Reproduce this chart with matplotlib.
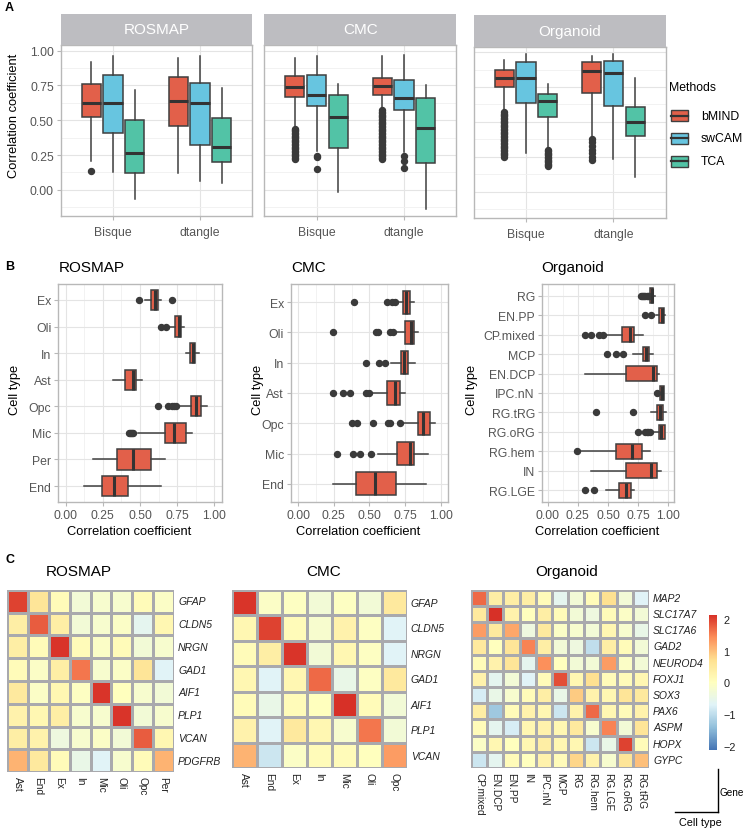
"""Deconvolution benchmark figure: method comparison, per-cell-type correlation, marker heatmaps."""

import matplotlib
matplotlib.use("Agg")
import matplotlib.pyplot as plt
import numpy as np
from matplotlib.colors import LinearSegmentedColormap, Normalize
from matplotlib.cm import ScalarMappable
from matplotlib.lines import Line2D
from matplotlib.patches import Rectangle
from matplotlib.ticker import MultipleLocator

plt.rcParams["font.family"] = ["Liberation Sans", "DejaVu Sans"]

# ---------------------------------------------------------------- data: panel A
A_datasets = ["ROSMAP", "CMC", "Organoid"]
A_groups = ["Bisque", "dtangle"]
A_methods = ["bMIND", "swCAM", "TCA"]
A_colors = ["#E2604A", "#67C5E0", "#52C3A6"]

# [dataset][group][method]
A_lo = [[[0.21, 0.127, -0.067], [0.12, 0.06, 0.048]],
        [[0.46, 0.28, -0.012], [0.58, 0.27, -0.136]],
        [[0.595, 0.274, 0.31], [0.40, 0.231, 0.104]]]
A_q1 = [[[0.524, 0.407, 0.12], [0.457, 0.323, 0.199]],
        [[0.668, 0.603, 0.304], [0.68, 0.574, 0.194]],
        [[0.75, 0.638, 0.536], [0.704, 0.614, 0.402]]]
A_med = [[[0.622, 0.625, 0.263], [0.639, 0.62, 0.306]],
         [[0.742, 0.684, 0.522], [0.749, 0.66, 0.445]],
         [[0.816, 0.816, 0.65], [0.864, 0.852, 0.50]]]
A_q3 = [[[0.761, 0.823, 0.498], [0.809, 0.77, 0.517]],
        [[0.818, 0.826, 0.684], [0.80, 0.792, 0.66]],
        [[0.871, 0.929, 0.70], [0.933, 0.94, 0.604]]]
A_hi = [[[0.917, 0.96, 0.718], [0.945, 0.96, 0.734]],
        [[0.945, 0.96, 0.759], [0.96, 0.965, 0.754]],
        [[0.947, 0.988, 0.769], [0.976, 0.988, 0.816]]]
A_fliers = [
    [[[0.134], [], []], [[], [], []]],
    [[[0.44, 0.43, 0.42, 0.41, 0.40, 0.39, 0.38, 0.37, 0.36, 0.35, 0.34, 0.33,
       0.32, 0.31, 0.30, 0.29, 0.28, 0.27, 0.26, 0.25, 0.24, 0.23, 0.22],
      [0.245, 0.235, 0.148], []],
     [[0.57, 0.56, 0.55, 0.54, 0.53, 0.52, 0.51, 0.50, 0.49, 0.48, 0.47, 0.46,
       0.45, 0.44, 0.43, 0.42, 0.41, 0.40, 0.39, 0.38, 0.37, 0.36, 0.35, 0.34,
       0.33, 0.32, 0.31, 0.30, 0.29, 0.28, 0.27, 0.26, 0.25, 0.24, 0.23, 0.22],
      [0.246, 0.206, 0.156], []]],
    [[[0.57, 0.56, 0.55, 0.54, 0.53, 0.52, 0.51, 0.50, 0.49, 0.48, 0.47, 0.46,
       0.45, 0.44, 0.43, 0.42, 0.41, 0.40, 0.39, 0.38, 0.37, 0.36, 0.35, 0.34,
       0.33, 0.32, 0.31, 0.30, 0.29, 0.28, 0.27, 0.26, 0.25],
      [],
      [0.30, 0.29, 0.28, 0.27, 0.26, 0.25, 0.24, 0.23, 0.22, 0.21, 0.20, 0.19, 0.18]],
     [[0.375, 0.355, 0.33, 0.30, 0.275, 0.25, 0.23], [], []]],
]

# ---------------------------------------------------------------- data: panel B
B_ros_types = ["Ex", "Oli", "In", "Ast", "Opc", "Mic", "Per", "End"]
B_ros_lo = [0.531, 0.70, 0.81, 0.318, 0.76, 0.485, 0.183, 0.123]
B_ros_q1 = [0.577, 0.738, 0.837, 0.40, 0.843, 0.667, 0.347, 0.244]
B_ros_med = [0.60, 0.763, 0.855, 0.452, 0.877, 0.731, 0.452, 0.322]
B_ros_q3 = [0.624, 0.778, 0.872, 0.472, 0.908, 0.808, 0.575, 0.418]
B_ros_hi = [0.644, 0.794, 0.90, 0.515, 0.951, 0.85, 0.669, 0.644]
B_ros_fliers = [[0.49, 0.716], [0.64, 0.678], [], [],
                [0.624, 0.687, 0.716, 0.728, 0.74],
                [0.425, 0.433, 0.44, 0.447, 0.452], [], []]

B_cmc_types = ["Ex", "Oli", "In", "Ast", "Opc", "Mic", "End"]
B_cmc_lo = [0.694, 0.694, 0.652, 0.504, 0.73, 0.56, 0.243]
B_cmc_q1 = [0.735, 0.749, 0.719, 0.624, 0.841, 0.696, 0.403]
B_cmc_med = [0.758, 0.788, 0.744, 0.682, 0.878, 0.781, 0.536]
B_cmc_q3 = [0.781, 0.809, 0.772, 0.717, 0.924, 0.814, 0.687]
B_cmc_hi = [0.811, 0.839, 0.816, 0.751, 0.959, 0.908, 0.897]
B_cmc_fliers = [[0.391, 0.62, 0.661, 0.677],
                [0.246, 0.543, 0.562, 0.643, 0.666],
                [0.476, 0.569, 0.608],
                [0.243, 0.312, 0.366, 0.476, 0.493],
                [0.38, 0.412, 0.527, 0.631, 0.643, 0.712],
                [0.271, 0.384, 0.435, 0.513],
                []]

B_org_types = ["RG", "EN.PP", "CP.mixed", "MCP", "EN.DCP", "IPC.nN",
               "RG.tRG", "RG.oRG", "RG.hem", "IN", "RG.LGE"]
B_org_lo = [0.845, 0.897, 0.476, 0.707, 0.307, 0.93, 0.856, 0.87, 0.266, 0.361, 0.484]
B_org_q1 = [0.848, 0.924, 0.62, 0.788, 0.652, 0.935, 0.905, 0.924, 0.563, 0.652, 0.592]
B_org_med = [0.862, 0.946, 0.68, 0.815, 0.87, 0.946, 0.932, 0.943, 0.70, 0.856, 0.652]
B_org_q3 = [0.875, 0.965, 0.715, 0.842, 0.905, 0.965, 0.96, 0.973, 0.78, 0.905, 0.693]
B_org_hi = [0.89, 0.97, 0.793, 0.875, 0.924, 0.968, 0.978, 0.975, 0.85, 0.9375, 0.712]
B_org_fliers = [[0.77, 0.78, 0.79, 0.80, 0.81, 0.82, 0.83, 0.84],
                [0.81, 0.86],
                [0.31, 0.36, 0.427, 0.462],
                [0.489, 0.565, 0.625],
                [],
                [0.91],
                [0.40, 0.707],
                [0.753, 0.807, 0.82, 0.835, 0.85],
                [0.245],
                [],
                [0.313, 0.38]]

# ---------------------------------------------------------------- data: panel C
C_ros_cols = ["Ast", "End", "Ex", "In", "Mic", "Oli", "Opc", "Per"]
C_ros_rows = ["GFAP", "CLDN5", "NRGN", "GAD1", "AIF1", "PLP1", "VCAN", "PDGFRB"]
C_ros_vals = [
    [2.0, 0.6, 0.1, -0.3, -0.2, -0.2, 0.1, -0.1],
    [0.4, 1.8, 0.4, -0.3, -0.2, -0.1, -0.6, 0.2],
    [0.4, 0.1, 2.1, 0.1, -0.1, 0.1, -0.3, -0.2],
    [0.1, -0.1, 0.4, 1.6, -0.2, -0.1, 0.6, -0.7],
    [0.5, -0.1, 0.2, -0.05, 2.1, 0.0, -0.2, -0.3],
    [0.3, 0.2, 0.4, -0.2, -0.2, 2.1, -0.3, -0.2],
    [0.4, 0.3, -0.4, -0.2, -0.1, -0.3, 1.8, 0.2],
    [1.1, 0.5, 0.1, -0.5, -0.7, -0.2, 0.1, 1.1],
]

C_cmc_cols = ["Ast", "End", "Ex", "In", "Mic", "Oli", "Opc"]
C_cmc_rows = ["GFAP", "CLDN5", "NRGN", "GAD1", "AIF1", "PLP1", "VCAN"]
C_cmc_vals = [
    [2.1, -0.1, -0.05, -0.3, -0.05, -0.3, 0.5],
    [0.2, 2.0, 0.1, -0.2, 0.3, -0.05, -0.7],
    [0.1, 0.4, 2.1, -0.3, 0.2, -0.05, -0.7],
    [0.2, -0.7, 0.2, 1.7, -0.5, -0.05, 0.5],
    [0.1, -0.5, 0.1, 0.0, 2.2, 0.1, -0.3],
    [0.3, -0.7, 0.5, 0.2, -0.2, 1.6, -0.3],
    [1.1, -0.9, -0.1, 0.1, 0.1, 0.0, 1.3],
]

C_org_cols = ["CP.mixed", "EN.DCP", "EN.PP", "IN", "IPC.nN", "MCP",
              "RG", "RG.hem", "RG.LGE", "RG.oRG", "RG.tRG"]
C_org_rows = ["MAP2", "SLC17A7", "SLC17A6", "GAD2", "NEUROD4", "FOXJ1",
              "SOX3", "PAX6", "ASPM", "HOPX", "GYPC"]
C_org_vals = [
    [1.7, 0.4, 0.4, 0.4, 0.1, -0.6, -0.3, 0.1, 0.7, -0.3, -0.7],
    [0.5, 2.2, 0.3, 0.0, 0.4, 0.1, -0.3, -0.4, 0.1, -0.1, -0.3],
    [1.3, 0.5, 1.2, -0.4, 0.5, -0.1, -0.2, -0.3, 0.2, -0.2, -0.5],
    [0.5, 0.0, 0.6, 1.5, 0.4, -0.3, -0.4, -1.0, 0.4, 0.1, -0.3],
    [0.1, 0.3, 0.6, -0.6, 1.4, 0.0, -0.3, -0.3, 1.3, -0.1, -0.3],
    [0.3, -0.6, -0.3, -0.7, 0.1, 1.9, 0.2, 0.7, 0.1, 0.1, 0.2],
    [-0.8, -0.5, -0.2, 0.1, 0.4, -0.5, 0.9, 0.3, 0.2, 0.6, 0.5],
    [0.4, -1.3, 0.1, 0.3, 0.2, -0.9, 0.3, 1.7, 0.2, 0.1, 0.3],
    [0.1, -0.6, -0.8, 0.2, 0.3, 0.2, 0.5, -0.2, 1.5, -0.3, 0.6],
    [-0.1, 0.2, 0.0, 0.2, 0.4, 0.2, 0.2, -0.9, -0.5, 2.0, 0.1],
    [-0.9, -0.6, 0.1, 0.0, 0.3, 0.1, 0.8, 0.3, -0.2, 0.6, 1.0],
]
C_cbar_ticks = [-2, -1, 0, 1, 2]

# ---------------------------------------------------------------- styling
W, H = 746, 829
GRID_MAJOR = "#e4e4e4"
GRID_MINOR = "#f0f0f0"
BORDER = "#b8b8b8"
TICK_TXT = "#555555"
EDGE = "#3f3f3f"
BOX_RED = "#E2604A"
TICK_FS = 8.8
TITLE_FS = 9.3

fig = plt.figure(figsize=(W / 100, H / 100), dpi=100)


def px_axes(x0, y0, x1, y1):
    """Axes placed by pixel box (top-left origin)."""
    return fig.add_axes([x0 / W, 1 - y1 / H, (x1 - x0) / W, (y1 - y0) / H])


def px_text(x, y, s, **kw):
    return fig.text(x / W, 1 - y / H, s, **kw)


def light_theme(ax):
    ax.set_axisbelow(True)
    for sp in ax.spines.values():
        sp.set_color(BORDER)
        sp.set_linewidth(1.0)
    ax.tick_params(colors=BORDER, labelcolor=TICK_TXT, labelsize=TICK_FS,
                   length=3, width=0.8, pad=2)
    ax.tick_params(which="minor", length=0)


def box_stats(lo, q1, med, q3, hi, fl):
    return dict(whislo=lo, q1=q1, med=med, q3=q3, whishi=hi, fliers=fl)


def draw_boxes(ax, stats, positions, width, color, orientation):
    ax.bxp(stats, positions=positions, widths=width, patch_artist=True,
           showcaps=False, orientation=orientation,
           boxprops=dict(facecolor=color, edgecolor=EDGE, linewidth=1.1),
           whiskerprops=dict(color=EDGE, linewidth=1.1),
           medianprops=dict(color="#333333", linewidth=2.2),
           flierprops=dict(marker="o", markerfacecolor="#3a3a3a",
                           markeredgecolor="#3a3a3a", markersize=4.3))


# ---------------------------------------------------------------- panel A
px_text(5, 8, "A", fontsize=9, fontweight="bold", va="center")

A_layout = [(60.7, 252.3, 14.7, 46.0, 217.3),
            (264.3, 456.3, 14.7, 46.0, 217.3),
            (473.7, 665.7, 16.0, 47.7, 219.0)]
offsets = [-0.25, 0.0, 0.25]

for d, name in enumerate(A_datasets):
    x0, x1, s0, y0, y1 = A_layout[d]
    ax = px_axes(x0, y0, x1, y1)
    light_theme(ax)
    for g in range(len(A_groups)):
        for m in range(len(A_methods)):
            st = box_stats(A_lo[d][g][m], A_q1[d][g][m], A_med[d][g][m],
                           A_q3[d][g][m], A_hi[d][g][m], A_fliers[d][g][m])
            draw_boxes(ax, [st], [g + offsets[m]], 0.22, A_colors[m], "vertical")
    ax.set_xlim(-0.6, 1.6)
    ax.set_ylim(-0.19, 1.04)
    ax.set_xticks(range(len(A_groups)))
    ax.set_xticklabels(A_groups)
    ax.tick_params(axis="x", pad=4)
    ax.yaxis.set_major_locator(MultipleLocator(0.25))
    ax.yaxis.set_minor_locator(MultipleLocator(0.125))
    ax.grid(which="major", color=GRID_MAJOR, linewidth=0.8)
    ax.grid(which="minor", axis="y", color=GRID_MINOR, linewidth=0.6)
    if d == 0:
        ax.set_yticklabels([f"{v:.2f}" for v in ax.get_yticks()])
    else:
        ax.tick_params(axis="y", left=False, labelleft=False)
    strip = px_axes(x0, s0, x1, y0)
    strip.set_facecolor("#bdbdc1")
    strip.set_xticks([])
    strip.set_yticks([])
    for sp in strip.spines.values():
        sp.set_visible(False)
    strip.text(0.5, 0.5, name, color="white", fontsize=11, ha="center",
               va="center", transform=strip.transAxes)

px_text(14, 116, "Correlation coefficient", fontsize=TITLE_FS, rotation=90,
        ha="center", va="center")

# legend for methods
px_text(669, 88, "Methods", fontsize=TICK_FS, va="center")
for m, meth in enumerate(A_methods):
    yc = 116.7 + m * 22.7
    fig.add_artist(Rectangle((671 / W, 1 - (yc + 5.5) / H), 17 / W, 11 / H,
                             transform=fig.transFigure, facecolor=A_colors[m],
                             edgecolor=EDGE, linewidth=1.0))
    fig.add_artist(Line2D([671 / W, 688 / W], [1 - yc / H, 1 - yc / H],
                          transform=fig.transFigure, color="#333333", linewidth=1.6))
    px_text(701, yc, meth, fontsize=TICK_FS, va="center")

# ---------------------------------------------------------------- panel B
px_text(5, 267, "B", fontsize=9, fontweight="bold", va="center")

B_panels = [
    ("ROSMAP", B_ros_types, B_ros_lo, B_ros_q1, B_ros_med, B_ros_q3, B_ros_hi,
     B_ros_fliers, (58.3, 221.7), 15, 129),
    ("CMC", B_cmc_types, B_cmc_lo, B_cmc_q1, B_cmc_med, B_cmc_q3, B_cmc_hi,
     B_cmc_fliers, (291.0, 448.0), 258, 358),
    ("Organoid", B_org_types, B_org_lo, B_org_q1, B_org_med, B_org_q3, B_org_hi,
     B_org_fliers, (541.7, 674.3), 472, 597),
]

for (name, types, lo, q1, med, q3, hi, fl, (x0, x1), ylab_x, xlab_x) in B_panels:
    n = len(types)
    ax = px_axes(x0, 285, x1, 503)
    light_theme(ax)
    pos = [n - i for i in range(n)]
    stats = [box_stats(lo[i], q1[i], med[i], q3[i], hi[i], fl[i]) for i in range(n)]
    draw_boxes(ax, stats, pos, 0.76, BOX_RED, "horizontal")
    ax.set_xlim(-0.05, 1.05)
    ax.set_ylim(0.4, n + 0.6)
    ax.set_yticks(pos)
    ax.set_yticklabels(types)
    ax.xaxis.set_major_locator(MultipleLocator(0.25))
    ax.xaxis.set_minor_locator(MultipleLocator(0.125))
    ax.set_xticklabels([f"{v:.2f}" for v in ax.get_xticks()])
    ax.set_xlim(-0.05, 1.05)
    ax.grid(which="major", color=GRID_MAJOR, linewidth=0.8)
    ax.grid(which="minor", axis="x", color=GRID_MINOR, linewidth=0.6)
    px_text(x0, 268, name, fontsize=11, va="center", ha="left")
    px_text(ylab_x, 390, "Cell type", fontsize=TITLE_FS, rotation=90, ha="center", va="center")
    px_text(xlab_x, 532, "Correlation coefficient", fontsize=TITLE_FS, ha="center", va="center")

# ---------------------------------------------------------------- panel C
px_text(5, 560, "C", fontsize=9, fontweight="bold", va="center")

rdylbu7 = ["#4575B4", "#91BFDB", "#E0F3F8", "#FFFFBF", "#FEE090", "#FC8D59", "#D73027"]
heat_cmap = LinearSegmentedColormap.from_list("rdylbu_r", rdylbu7, N=256)
heat_norm = Normalize(vmin=-2.14, vmax=2.14)

C_panels = [
    ("ROSMAP", C_ros_cols, C_ros_rows, C_ros_vals, (7.3, 590.7, 174.0, 773.3), 79),
    ("CMC", C_cmc_cols, C_cmc_rows, C_cmc_vals, (231.7, 591.0, 406.7, 769.3), 323.5),
    ("Organoid", C_org_cols, C_org_rows, C_org_vals, (471.0, 590.7, 649.0, 769.0), 567),
]

for name, cols, rows, vals, (x0, y0, x1, y1), title_x in C_panels:
    ax = px_axes(x0, y0, x1, y1)
    mat = np.array(vals)
    ax.pcolormesh(mat, cmap=heat_cmap, norm=heat_norm, edgecolors="#a9a9ad",
                  linewidth=0.8)
    ax.set_xlim(0, len(cols))
    ax.set_ylim(len(rows), 0)
    ax.axis("off")
    for i, r in enumerate(rows):
        ax.annotate(r, (len(cols), i + 0.5), xytext=(3, 0), textcoords="offset points",
                    ha="left", va="center", fontsize=7.5, style="italic", color="#222222")
    for j, c in enumerate(cols):
        ax.annotate(c, (j + 0.5, len(rows)), xytext=(0, -3), textcoords="offset points",
                    ha="center", va="top", rotation=270, fontsize=7.3, color="#222222")
    px_text(title_x, 572, name, fontsize=11, ha="center", va="center")

cax = px_axes(709.3, 615.7, 716.7, 751.0)
cb = fig.colorbar(ScalarMappable(norm=heat_norm, cmap=heat_cmap), cax=cax,
                  ticks=C_cbar_ticks)
cb.outline.set_visible(False)
cax.tick_params(length=0, labelsize=7.8, pad=5, colors="#222222")
cax.set_yticklabels([str(t).replace("-", "\u2212") for t in C_cbar_ticks])

# gene / cell type orientation key
fig.add_artist(Line2D([718.3 / W, 718.3 / W], [1 - 770 / H, 1 - 813.3 / H],
                      transform=fig.transFigure, color="black", linewidth=1))
fig.add_artist(Line2D([675 / W, 718.3 / W], [1 - 813.3 / H, 1 - 813.3 / H],
                      transform=fig.transFigure, color="black", linewidth=1))
px_text(720, 793, "Gene", fontsize=7.2, ha="left", va="center")
px_text(700, 823, "Cell type", fontsize=7.8, ha="center", va="center")

fig.savefig("out.png", dpi=100)
